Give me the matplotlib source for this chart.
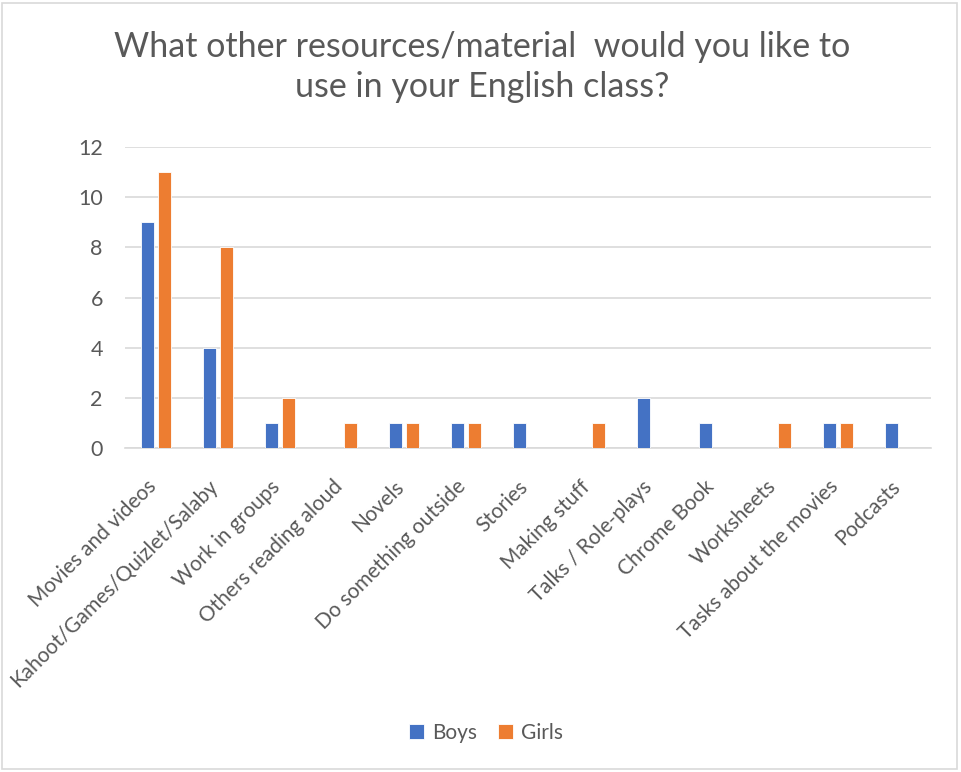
import matplotlib
matplotlib.use("Agg")
import matplotlib.pyplot as plt
import matplotlib.transforms as mtransforms
import numpy as np
from matplotlib.patches import Rectangle

plt.rcParams["font.family"] = ["Lato", "DejaVu Sans"]

CATEGORIES = [
    "Movies and videos", "Kahoot/Games/Quizlet/Salaby", "Work in groups",
    "Others reading aloud", "Novels", "Do something outside", "Stories",
    "Making stuff", "Talks / Role-plays", "Chrome Book", "Worksheets",
    "Tasks about the movies", "Podcasts",
]
BOYS = [9, 4, 1, 0, 1, 1, 1, 0, 2, 1, 0, 1, 1]
GIRLS = [11, 8, 2, 1, 1, 1, 0, 1, 0, 0, 1, 1, 0]
YTICKS = [0, 2, 4, 6, 8, 10, 12]

BLUE = "#4472C4"
ORANGE = "#ED7D31"
TEXT = "#595959"
GRID = "#D9D9D9"

W, H = 961, 772
fig = plt.figure(figsize=(W / 100, H / 100), dpi=100)

# chart border
fig.patches.append(Rectangle((2 / W, 3 / H), 955 / W, 766 / H,
                             transform=fig.transFigure, fill=False,
                             edgecolor=GRID, linewidth=1.2))

ax = fig.add_axes([125 / W, (H - 448) / H, 806 / W, 301 / H])

x = np.arange(len(CATEGORIES))
bw = 0.21
off = 0.14
ax.bar(x - off, BOYS, width=bw, color=BLUE, edgecolor="white",
       linewidth=0.6, label="Boys", zorder=3)
ax.bar(x + off, GIRLS, width=bw, color=ORANGE, edgecolor="white",
       linewidth=0.6, label="Girls", zorder=3)

ax.set_xlim(-0.5, len(CATEGORIES) - 0.5)
ax.set_ylim(0, 12)
ax.set_yticks(YTICKS)
ax.yaxis.grid(True, color=GRID, linewidth=1.2, zorder=0)
for s in ["top", "right", "left"]:
    ax.spines[s].set_visible(False)
ax.spines["bottom"].set_color(GRID)
ax.spines["bottom"].set_linewidth(1.2)
ax.tick_params(axis="both", length=0, colors=TEXT, labelsize=15.5)
ax.tick_params(axis="y", pad=16)

ax.set_xticks(x)
ax.set_xticklabels(CATEGORIES, rotation=45, ha="right", va="top",
                   rotation_mode="anchor", fontsize=15)
ax.tick_params(axis="x", pad=9)
# nudge the slanted labels so their ends sit under the category centres
shift = mtransforms.ScaledTranslation(-10 / 100, -16 / 100, fig.dpi_scale_trans)
for lab in ax.get_xticklabels():
    lab.set_transform(lab.get_transform() + shift)

fig.text(482 / W, 1 - 67 / H,
         "What other resources/material  would you like to\nuse in your English class?",
         ha="center", va="center", fontsize=24.5, color=TEXT,
         linespacing=1.3)

leg = fig.legend(loc="center", bbox_to_anchor=(486 / W, 1 - 733 / H),
                 ncol=2, frameon=False, fontsize=15, handlelength=0.7,
                 handleheight=0.7, handletextpad=0.4, columnspacing=1.0)
for t in leg.get_texts():
    t.set_color(TEXT)

fig.savefig("out.png", dpi=100)
